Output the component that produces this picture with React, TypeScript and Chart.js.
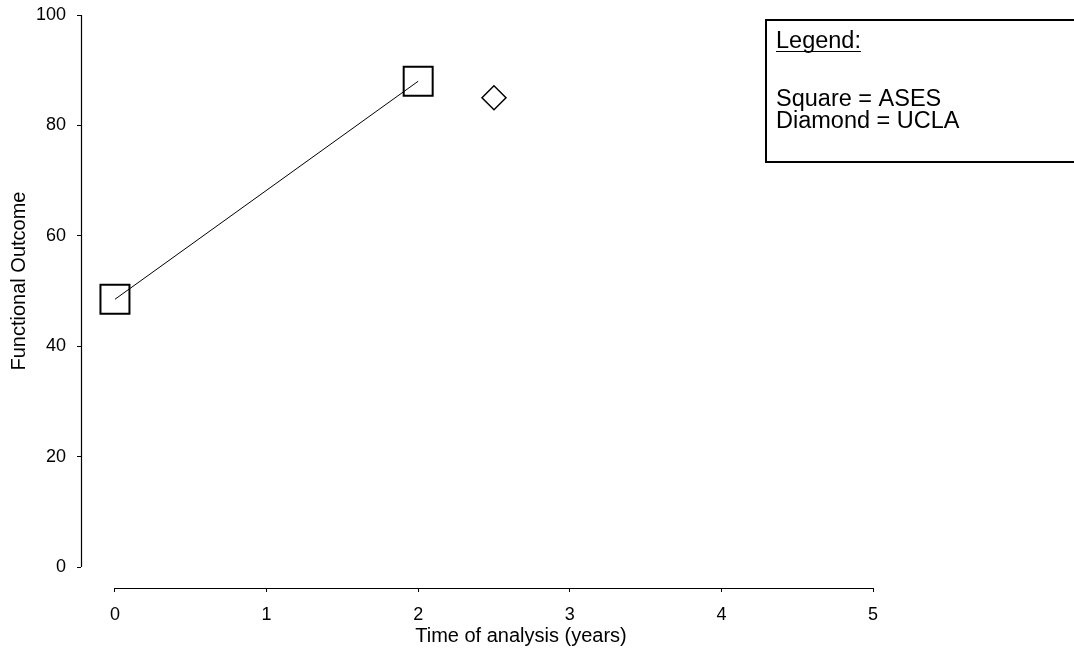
import React, { useEffect, useRef } from "react";
import { Chart, registerables } from "chart.js";

Chart.register(...registerables);

// ---- data ----
const xTickValues = [0, 1, 2, 3, 4, 5];
const yTickValues = [0, 20, 40, 60, 80, 100];
const asesTimes = [0, 2];
const asesScores = [48.5, 88];
const uclaTimes = [2.5];
const uclaScores = [85];
const legendTitle = "Legend:";
const legendLines = ["Square = ASES", "Diamond = UCLA"];
const xTitle = "Time of analysis (years)";
const yTitle = "Functional Outcome";

const FONT = "'Liberation Sans', Arial, sans-serif";

const overlayPlugin = {
  id: "overlay",
  afterDraw(chart: any) {
    const { ctx, chartArea, scales } = chart;
    const xs = scales.x;
    const ys = scales.y;
    ctx.save();
    ctx.strokeStyle = "#000";
    ctx.lineWidth = 1.2;
    // y axis line
    ctx.beginPath();
    ctx.moveTo(chartArea.left + 0.5, ys.getPixelForValue(yTickValues[yTickValues.length - 1]));
    ctx.lineTo(chartArea.left + 0.5, ys.getPixelForValue(yTickValues[0]));
    ctx.stroke();
    // x axis line
    ctx.beginPath();
    ctx.moveTo(xs.getPixelForValue(xTickValues[0]), chartArea.bottom + 0.5);
    ctx.lineTo(xs.getPixelForValue(xTickValues[xTickValues.length - 1]), chartArea.bottom + 0.5);
    ctx.stroke();

    // axis titles
    ctx.fillStyle = "#000";
    ctx.font = `20px ${FONT}`;
    ctx.textAlign = "center";
    ctx.textBaseline = "middle";
    ctx.fillText(xTitle, 521, 636);
    ctx.save();
    ctx.translate(19, 281);
    ctx.rotate(-Math.PI / 2);
    ctx.fillText(yTitle, 0, 0);
    ctx.restore();

    // legend box
    ctx.lineWidth = 2;
    ctx.strokeRect(766, 20, 340, 142);
    ctx.font = `23.5px ${FONT}`;
    ctx.textAlign = "left";
    ctx.textBaseline = "alphabetic";
    ctx.fillText(legendTitle, 776, 48);
    const w = ctx.measureText(legendTitle).width;
    ctx.lineWidth = 1;
    ctx.beginPath();
    ctx.moveTo(776, 51.5);
    ctx.lineTo(776 + w, 51.5);
    ctx.stroke();
    legendLines.forEach((t, i) => ctx.fillText(t, 776, 106 + i * 22));
    ctx.restore();
  },
};

export default function App() {
  const ref = useRef<HTMLCanvasElement>(null);
  useEffect(() => {
    document.body.style.margin = "0";
    const c = ref.current!;
    const chart = new Chart(c, {
      type: "scatter",
      data: {
        datasets: [
          {
            label: "ASES",
            data: asesTimes.map((x, i) => ({ x, y: asesScores[i] })),
            showLine: true,
            borderColor: "#000",
            borderWidth: 1,
            backgroundColor: "rgba(0,0,0,0)",
            pointStyle: "rect",
            pointRadius: 20.5,
            pointBorderWidth: 2,
            pointBorderColor: "#000",
            pointBackgroundColor: "rgba(0,0,0,0)",
          },
          {
            label: "UCLA",
            data: uclaTimes.map((x, i) => ({ x, y: uclaScores[i] })),
            showLine: false,
            pointStyle: "rectRot",
            pointRadius: 12,
            pointBorderWidth: 1.5,
            pointBorderColor: "#000",
            pointBackgroundColor: "rgba(0,0,0,0)",
          },
        ],
      },
      options: {
        animation: false,
        responsive: false,
        maintainAspectRatio: false,
        layout: { autoPadding: false, padding: { top: 15, right: 201, left: 0, bottom: 0 } },
        plugins: { legend: { display: false }, tooltip: { enabled: false } },
        scales: {
          x: {
            type: "linear",
            min: -0.224,
            max: 5,
            afterBuildTicks: (s: any) => {
              s.ticks = xTickValues.map((v) => ({ value: v }));
            },
            afterFit: (s: any) => {
              s.height = 81;
              s.paddingLeft = 0;
              s.paddingRight = 0;
            },
            border: { display: false },
            grid: { drawOnChartArea: false, drawTicks: true, tickLength: 4, color: "#000", lineWidth: 1 },
            ticks: { color: "#000", font: { family: FONT, size: 18 }, padding: 12, maxRotation: 0 },
          },
          y: {
            type: "linear",
            min: -3.8,
            max: 100,
            afterBuildTicks: (s: any) => {
              s.ticks = yTickValues.map((v) => ({ value: v }));
            },
            afterFit: (s: any) => {
              s.width = 81;
              s.paddingTop = 0;
              s.paddingBottom = 0;
            },
            border: { display: false },
            grid: { drawOnChartArea: false, drawTicks: true, tickLength: 4, color: "#000", lineWidth: 1 },
            ticks: { color: "#000", font: { family: FONT, size: 18 }, padding: 11 },
          },
        },
      },
      plugins: [overlayPlugin],
    });
    return () => chart.destroy();
  }, []);
  return (
    <div style={{ width: 1074, height: 669, background: "#fff" }}>
      <canvas ref={ref} width={1074} height={669} style={{ display: "block" }} />
    </div>
  );
}
